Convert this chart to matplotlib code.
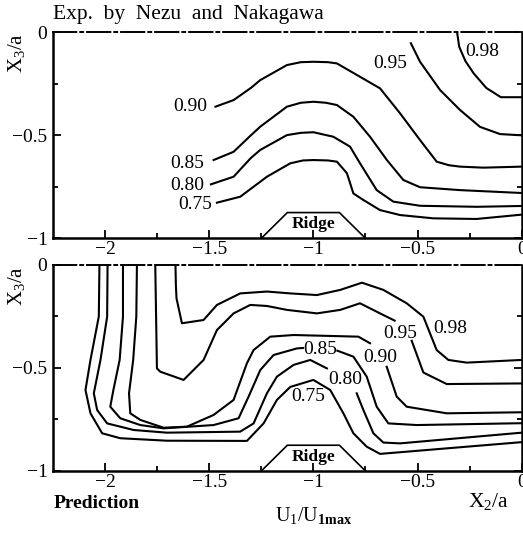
import numpy as np
import matplotlib
matplotlib.use("Agg")
import matplotlib.pyplot as plt

plt.rcParams['font.family'] = ['Liberation Serif', 'DejaVu Serif']
plt.rcParams['mathtext.fontset'] = 'custom'
plt.rcParams['mathtext.rm'] = 'Liberation Serif'
plt.rcParams['mathtext.it'] = 'Liberation Serif:italic'
plt.rcParams['mathtext.bf'] = 'Liberation Serif:bold'

nan = np.nan

# --- Experiment (top): contour lines U1/U1max, X2/a vs X3/a
exp_098_x = [-0.31, -0.30, -0.27, -0.23, -0.17, -0.10, 0.0]
exp_098_y = [0.0, -0.07, -0.14, -0.20, -0.27, -0.315, -0.315]
exp_095_x = [-0.532, -0.488, -0.392, -0.296, -0.20, -0.104, 0.0]
exp_095_y = [-0.053, -0.143, -0.28, -0.377, -0.459, -0.494, -0.50]
exp_090_x = [-1.47, -1.383, -1.30, -1.255, -1.127, -1.06, -1.0, -0.93, -0.887, -0.776, -0.68, -0.584,
             -0.488, -0.408, -0.35, -0.296, -0.184, 0.0]
exp_090_y = [-0.361, -0.329, -0.27, -0.232, -0.159, -0.145, -0.143, -0.145, -0.151, -0.216, -0.272, -0.393,
             -0.523, -0.628, -0.645, -0.652, -0.657, -0.652]
exp_085_x = [-1.479, -1.383, -1.30, -1.255, -1.127, -1.06, -1.0, -0.94, -0.887, -0.808, -0.728, -0.647,
             -0.568, -0.488, -0.296, 0.0]
exp_085_y = [-0.62, -0.58, -0.50, -0.458, -0.361, -0.342, -0.337, -0.342, -0.353, -0.41, -0.507, -0.62,
             -0.717, -0.752, -0.766, -0.78]
exp_080_x = [-1.492, -1.383, -1.30, -1.255, -1.127, -1.06, -1.0, -0.904, -0.824, -0.776, -0.696, -0.616,
             -0.488, -0.216, 0.0]
exp_080_y = [-0.738, -0.701, -0.61, -0.571, -0.499, -0.488, -0.485, -0.507, -0.555, -0.636, -0.766, -0.822,
             -0.842, -0.847, -0.843]
exp_075_x = [-1.463, -1.351, -1.223, -1.111, -1.05, -1.0, -0.93, -0.887, -0.839, -0.808, -0.76, -0.68,
             -0.584, -0.424, -0.216, 0.0]
exp_075_y = [-0.827, -0.798, -0.701, -0.636, -0.622, -0.62, -0.622, -0.628, -0.684, -0.782, -0.814, -0.863,
             -0.887, -0.903, -0.906, -0.885]

# --- Prediction (bottom)
pre_098_x = [-1.662, -1.66, -1.657, -1.631, -1.527, -1.463, -1.351, -1.223, -1.111, -0.983, -0.871, -0.767,
             -0.664, -0.552, -0.472, -0.408, -0.352, -0.264, 0.0]
pre_098_y = [0.0, -0.10, -0.162, -0.283, -0.267, -0.194, -0.138, -0.129, -0.138, -0.146, -0.121, -0.086,
             -0.121, -0.186, -0.251, -0.413, -0.461, -0.474, -0.461]
pre_095_x = [-1.759, -1.755, -1.751, -1.735, -1.623, -1.527, -1.463, -1.383, -1.303, -1.223, -1.127, -0.983,
             -0.871, -0.776, -0.68, -0.61, nan, -0.528, -0.472, -0.36, 0.0]
pre_095_y = [0.0, -0.25, -0.502, -0.518, -0.558, -0.461, -0.316, -0.235, -0.194, -0.199, -0.218, -0.235,
             -0.218, -0.186, -0.235, -0.27, nan, -0.368, -0.522, -0.578, -0.575]
pre_090_x = [-1.847, -1.85, -1.865, -1.885, -1.879, -1.831, -1.719, -1.607, -1.479, -1.383, -1.319, -1.287,
             -1.207, -1.095, -0.784, -0.728, nan, -0.648, -0.60, -0.552, -0.36, 0.0]
pre_090_y = [0.0, -0.251, -0.461, -0.623, -0.72, -0.752, -0.79, -0.785, -0.728, -0.655, -0.477, -0.413,
             -0.348, -0.34, -0.348, -0.38, nan, -0.494, -0.639, -0.688, -0.72, -0.715]
pre_085_x = [-1.914, -1.914, -1.93, -1.96, -1.975, -1.927, -1.831, -1.719, -1.479, -1.359, -1.311, -1.255,
             -1.191, -1.079, -1.05, nan, -0.885, -0.808, -0.744, -0.696, -0.64, -0.504, 0.0]
pre_085_y = [0.0, -0.251, -0.461, -0.607, -0.688, -0.744, -0.777, -0.793, -0.777, -0.744, -0.639, -0.51,
             -0.437, -0.405, -0.403, nan, -0.416, -0.445, -0.542, -0.688, -0.769, -0.777, -0.768]
pre_080_x = [-1.988, -1.99, -2.022, -2.054, -2.038, -1.99, -1.863, -1.703, -1.351, -1.287, -1.223, -1.175,
             -1.095, -1.015, -0.935, nan, -0.792, -0.76, -0.712, -0.664, -0.584, 0.0]
pre_080_y = [0.0, -0.251, -0.461, -0.623, -0.704, -0.769, -0.801, -0.814, -0.809, -0.769, -0.623, -0.542,
             -0.485, -0.461, -0.502, nan, -0.623, -0.704, -0.817, -0.862, -0.866, -0.814]
pre_075_x = [-2.027, -2.03, -2.07, -2.094, -2.07, -2.014, -1.927, -1.703, -1.319, -1.239, -1.175, -1.111,
             -1.0, -0.919, -0.856, -0.808, -0.744, -0.68, 0.0]
pre_075_y = [0.0, -0.25, -0.461, -0.607, -0.72, -0.817, -0.841, -0.853, -0.854, -0.769, -0.655, -0.592,
             -0.558, -0.607, -0.72, -0.817, -0.882, -0.917, -0.86]

ridge_x = [-1.25, -1.125, -0.875, -0.75]
ridge_y = [-1.0, -0.875, -0.875, -1.0]

levels = ['0.98', '0.95', '0.90', '0.85', '0.80', '0.75']
exp_lines = [(exp_098_x, exp_098_y), (exp_095_x, exp_095_y), (exp_090_x, exp_090_y),
             (exp_085_x, exp_085_y), (exp_080_x, exp_080_y), (exp_075_x, exp_075_y)]
pre_lines = [(pre_098_x, pre_098_y), (pre_095_x, pre_095_y), (pre_090_x, pre_090_y),
             (pre_085_x, pre_085_y), (pre_080_x, pre_080_y), (pre_075_x, pre_075_y)]
# label positions (x, y) per level
exp_lab_x = [-0.187, -0.632, -1.591, -1.607, -1.607, -1.567]
exp_lab_y = [-0.094, -0.151, -0.361, -0.636, -0.745, -0.838]
pre_lab_x = [-0.344, -0.584, -0.68, -0.967, -0.847, -1.024]
pre_lab_y = [-0.307, -0.332, -0.447, -0.41, -0.556, -0.638]

fig = plt.figure(figsize=(5.23, 5.34), dpi=100)
ax1 = fig.add_axes([0.1013, 0.5537, 0.8962, 0.3858])
ax2 = fig.add_axes([0.1013, 0.1180, 0.8962, 0.3858])


def style_axes(ax):
    ax.set_xlim(-2.25, 0)
    ax.set_ylim(-1, 0)
    ax.set_xticks([-2, -1.5, -1, -0.5, 0])
    ax.set_xticklabels(['\u22122', '\u22121.5', '\u22121', '\u22120.5', '0'])
    ax.set_xticks([-1.75, -1.25, -0.75, -0.25], minor=True)
    ax.set_yticks([0, -0.5, -1])
    ax.set_yticklabels(['0', '\u22120.5', '\u22121'])
    ax.set_yticks([-0.25, -0.75], minor=True)
    ax.tick_params(which='major', direction='in', length=6, width=1.3, labelsize=14,
                   top=False, right=True, pad=2)
    ax.tick_params(which='minor', direction='in', length=3.5, width=1.3,
                   top=False, right=True)
    ax.tick_params(axis='y', which='major', pad=4)
    for s in ['left', 'bottom', 'right']:
        ax.spines[s].set_linewidth(1.8)
    ax.spines['top'].set_linewidth(1.4)
    ax.spines['top'].set_linestyle((0, (12, 2, 1.5, 2)))
    ax.plot(ridge_x, ridge_y, color='black', lw=1.2, clip_on=False)
    ax.text(-1.0, -0.93, 'Ridge', ha='center', va='center', fontsize=12.5, fontweight='bold')
    ax.text(-0.077, 0.9, r'X$_3$/a', rotation=90, ha='center', va='center',
            fontsize=15, transform=ax.transAxes)


for ax, lines, lx, ly in [(ax1, exp_lines, exp_lab_x, exp_lab_y), (ax2, pre_lines, pre_lab_x, pre_lab_y)]:
    style_axes(ax)
    for (xs, ys), lev, tx, ty in zip(lines, levels, lx, ly):
        ax.plot(xs, ys, color='black', lw=1.5)
        ax.text(tx, ty, lev, ha='center', va='center', fontsize=14)

ax1.text(0.0, 1.085, 'Exp.  by  Nezu  and  Nakagawa', ha='left', va='center',
         fontsize=15.5, transform=ax1.transAxes)
ax2.text(0.094, -0.16, 'Prediction', ha='center', va='center', fontsize=14,
         fontweight='bold', transform=ax2.transAxes)
ax2.text(0.557, -0.214, r'U$_1$/U$_{\mathbf{1max}}$', ha='center', va='center',
         fontsize=14.5, transform=ax2.transAxes)
ax2.text(0.93, -0.15, r'X$_2$/a', ha='center', va='center', fontsize=15.5,
         transform=ax2.transAxes)

fig.savefig('out.png', dpi=100)
